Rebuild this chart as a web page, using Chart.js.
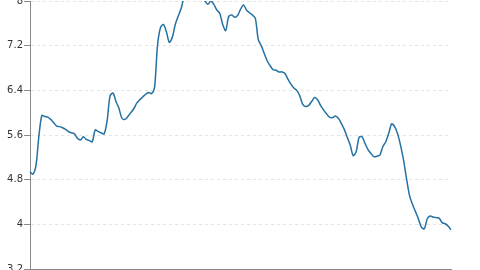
<!DOCTYPE html>
<html>
<head>
<meta charset="utf-8">
<script src="https://cdn.jsdelivr.net/npm/chart.js@4.4.0/dist/chart.umd.min.js"></script>
<style>
  html, body { margin: 0; padding: 0; background: #fff; overflow: hidden; }
  #wrap { width: 480px; height: 270px; position: relative; }
</style>
</head>
<body>
<div id="wrap"><canvas id="myChart"></canvas></div>
<script>
// monthly series, first point is a February
var startYear = 2007;
var monthNames = ['Jan','Feb','Mar','Apr','May','Jun','Jul','Aug','Sep','Oct','Nov','Dec'];

var values = [
  4.94, 4.90, 5.05, 5.58, 5.95, 5.93, 5.92, 5.88, 5.82, 5.76,
  5.75, 5.73, 5.70, 5.66, 5.64, 5.62, 5.54, 5.51, 5.57, 5.52,
  5.50, 5.48, 5.69, 5.66, 5.64, 5.62, 5.85, 6.30, 6.35, 6.20,
  6.08, 5.90, 5.88, 5.93, 6.00, 6.07, 6.17, 6.23, 6.28, 6.33,
  6.36, 6.34, 6.45, 7.20, 7.52, 7.58, 7.45, 7.26, 7.35, 7.58,
  7.73, 7.87, 8.08, 8.15, 8.22, 8.18, 8.25, 8.12, 8.05, 8.00,
  7.94, 8.00, 7.94, 7.84, 7.78, 7.58, 7.47, 7.72, 7.75, 7.71,
  7.74, 7.85, 7.93, 7.84, 7.79, 7.75, 7.69, 7.31, 7.20, 7.06,
  6.93, 6.84, 6.77, 6.76, 6.73, 6.73, 6.70, 6.60, 6.51, 6.44,
  6.40, 6.30, 6.15, 6.11, 6.13, 6.20, 6.27, 6.23, 6.13, 6.05,
  5.98, 5.92, 5.91, 5.94, 5.90, 5.81, 5.70, 5.56, 5.42, 5.23,
  5.30, 5.56, 5.57, 5.45, 5.34, 5.27, 5.21, 5.22, 5.24, 5.39,
  5.48, 5.63, 5.80, 5.75, 5.62, 5.41, 5.15, 4.82, 4.52, 4.36,
  4.23, 4.10, 3.95, 3.92, 4.10, 4.15, 4.13, 4.12, 4.11, 4.03,
  4.01, 3.97, 3.90
];

var labels = [];
for (var i = 0; i < values.length; i++) {
  var m = (i + 1) % 12;
  var y = startYear + Math.floor((i + 1) / 12);
  labels.push(monthNames[m] + ' ' + y);
}

var yMin = 3.2, yMax = 8, yStep = 0.8;

var ctx = document.getElementById('myChart').getContext('2d');
var myChart = new Chart(ctx, {
  type: 'line',
  data: {
    labels: labels,
    datasets: [{
      data: values,
      borderColor: '#2471a3',
      borderWidth: 1.5,
      pointRadius: 0,
      fill: false,
      tension: 0.3
    }]
  },
  options: {
    responsive: true,
    maintainAspectRatio: false,
    animation: false,
    layout: { padding: { top: 1, right: 29, left: 0, bottom: 0 } },
    plugins: { legend: { display: false }, tooltip: { enabled: false } },
    scales: {
      x: {
        grid: { drawOnChartArea: false, drawTicks: true, tickLength: 5, tickColor: '#999' },
        border: { color: '#888', width: 1 },
        ticks: { display: false },
        afterBuildTicks: function(s) {
          // one tick per January
          s.ticks = s.ticks.filter(function(t) { return t.value % 12 === 11; });
        },
        afterFit: function(s) { s.height = 1; }
      },
      y: {
        min: yMin,
        max: yMax,
        grid: { color: '#e3e3e3', tickLength: 6, tickColor: '#888' },
        border: { color: '#888', width: 1, dash: [3, 3] },
        ticks: {
          stepSize: yStep,
          padding: 1,
          color: '#333',
          font: { family: 'DejaVu Sans', size: 10 },
          callback: function(v) { return String(+v.toFixed(1)); }
        },
        afterFit: function(s) {
          s.width = 30;
          s.paddingTop = 0;
          s.paddingBottom = 0;
        }
      }
    }
  }
});
</script>
</body>
</html>
